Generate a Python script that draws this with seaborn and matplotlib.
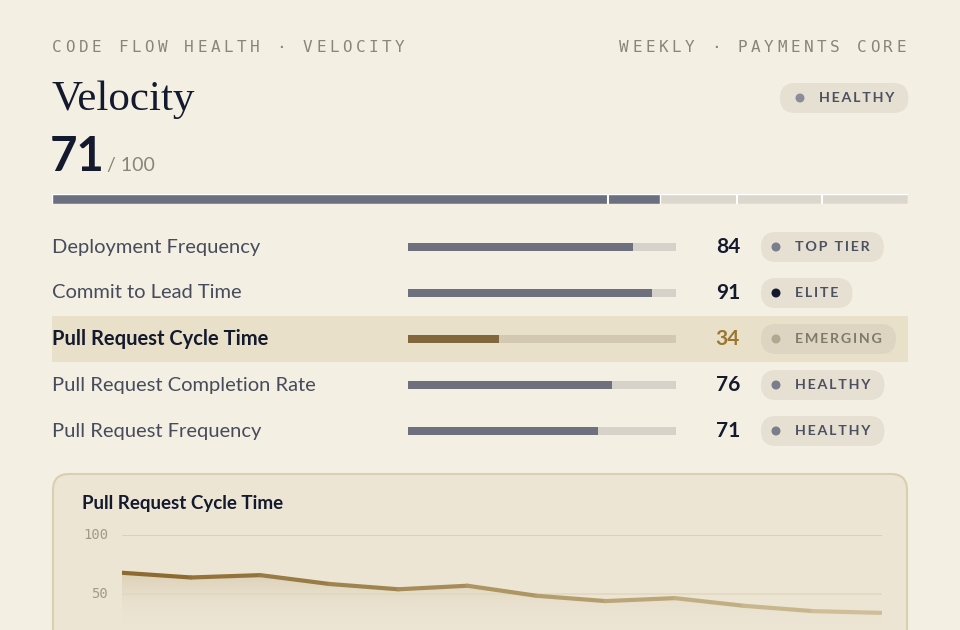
import numpy as np
import pandas as pd
import matplotlib
matplotlib.use("Agg")
import matplotlib.pyplot as plt
import seaborn as sns
from matplotlib.patches import FancyBboxPatch, Rectangle
from matplotlib.colors import to_rgb

# data
score = 71
tier_marks = [65, 80, 90]
metrics = ["Deployment Frequency", "Commit to Lead Time", "Pull Request Cycle Time",
           "Pull Request Completion Rate", "Pull Request Frequency"]
values = [84, 91, 34, 76, 71]
badges = ["TOP TIER", "ELITE", "EMERGING", "HEALTHY", "HEALTHY"]
focus = "Pull Request Cycle Time"
trend = [68, 64, 66, 58.5, 54, 57, 48.5, 44, 46.5, 40, 35.5, 34]

BG = "#f3efe3"
SLATE = "#6b7080"
TRACK = "#dcd7cc"
GOLD = "#8c6a30"
INK = "#141a2e"
MUTED = "#8a8577"

sns.set_theme(style="white")
plt.rcParams["font.family"] = ["Lato", "DejaVu Sans"]

fig = plt.figure(figsize=(9.6, 6.3), dpi=100, facecolor=BG)
ax0 = fig.add_axes([0, 0, 1, 1])
ax0.set_xlim(0, 960)
ax0.set_ylim(630, 0)
ax0.axis("off")
ax0.set_facecolor(BG)
renderer = fig.canvas.get_renderer()


def spaced(x, y, s, step, ha="left", **kw):
    # letter-spaced monospace text, one char per step pixels
    if ha == "right":
        x = x - step * (len(s) - 1) - step * 0.6
    for i, ch in enumerate(s):
        ax0.text(x + i * step, y, ch, ha="left", va="center", **kw)


def pill(x0, x1, yc, h, color):
    ax0.add_patch(FancyBboxPatch((x0, yc - h / 2), x1 - x0, h,
                                 boxstyle=f"round,pad=0,rounding_size={h/2}",
                                 fc=color, ec="none", zorder=2))


def badge(x0, y, label, bg, dot, fg, dot_dx=15):
    t = ax0.text(x0 + dot_dx + 19, y, "\u2009".join(label), fontsize=10.3, weight="bold",
                 color=fg, va="center", zorder=3)
    bb = t.get_window_extent(renderer)
    pill(x0, bb.x1 + 14, y, 30, bg)
    ax0.add_patch(plt.Circle((x0 + dot_dx, y), 3.8, color=dot, zorder=3))


mono = dict(family="DejaVu Sans Mono", fontsize=11.5, color=MUTED)
spaced(52, 47, "CODE FLOW HEALTH · VELOCITY", 13.2, **mono)
spaced(904, 47, "WEEKLY · PAYMENTS CORE", 13.2, ha="right", **mono)

ax0.text(52, 100, "Velocity", family="Liberation Serif", fontsize=31, color=INK, va="center")
ax0.text(50, 157, str(score), fontsize=34, weight="bold", color=INK, va="center")
ax0.text(107, 165, "/ 100", fontsize=14, color=MUTED, va="center")

badge(780, 98, "HEALTHY", "#e6e0d2", "#8a8c98", "#4c5060", dot_dx=20)

# overall bar
axb = fig.add_axes([52 / 960, 1 - 204 / 630, 856 / 960, 10 / 630])
axb.barh([0], [100], color=TRACK, height=1)
axb.barh([0], [score], color=SLATE, height=1)
for t in tier_marks:
    axb.axvline(t, color="white", lw=1.5)
axb.set_xlim(0, 100)
axb.set_ylim(-0.5, 0.5)
axb.axis("off")

# highlight row
rows_y = [247, 293, 339, 385, 431]
fi = metrics.index(focus)
ax0.add_patch(Rectangle((52, rows_y[fi] - 23), 856, 46, fc="#e8e0c8", ec="none", zorder=0))

axm = fig.add_axes([408 / 960, 1 - 454 / 630, 268 / 960, 230 / 630])
axm.patch.set_alpha(0)
df = pd.DataFrame({"metric": metrics, "value": values})
sns.barplot(data=df, y="metric", x=[100] * 5, color="#d8d3c8", width=0.18,
            linewidth=0, ax=axm)
bar_cols = [GOLD if m == focus else SLATE for m in metrics]
sns.barplot(data=df, y="metric", x="value", hue="metric", palette=bar_cols,
            width=0.18, linewidth=0, legend=False, ax=axm)
axm.patches[fi].set_facecolor("#d3c9b3")
axm.set_xlim(0, 100)
axm.axis("off")

for i, (m, v, b) in enumerate(zip(metrics, values, badges)):
    y = rows_y[i]
    hot = m == focus
    ax0.text(52, y, m, fontsize=14.5, va="center", color=INK if hot else "#474c5c",
             weight="bold" if hot else "normal")
    ax0.text(740, y, str(v), fontsize=15, weight="bold", ha="right", va="center",
             color="#9a7630" if hot else INK)
    dot = {"ELITE": INK, "EMERGING": "#b0a890"}.get(b, "#7a7e8c")
    badge(761, y, b, "#ddd5c2" if hot else "#e6e0d2", dot,
          "#807a6a" if hot else "#4c5060")

# trend card
ax0.add_patch(FancyBboxPatch((53, 474), 854, 200, boxstyle="round,pad=0,rounding_size=16",
                             fc="#ece5d4", ec="#d8cfae", lw=1.5, zorder=0))
ax0.text(82, 504, focus, fontsize=13.5, weight="bold", color=INK, va="center")
for val, yy in [(100, 535), (50, 594)]:
    ax0.text(108, yy, str(val), family="DejaVu Sans Mono", fontsize=10,
             color="#a09a88", ha="right", va="center")

axl = fig.add_axes([122 / 960, 0, 760 / 960, 95 / 630])
axl.patch.set_alpha(0)
x = np.arange(len(trend))
lo = 100 - 95 / 1.18
axl.set_xlim(0, len(trend) - 1)
axl.set_ylim(lo, 100)
axl.axhline(100, color="#d8cfb0", lw=1.2)
axl.axhline(50, color="#e0d8c0", lw=1.2)
grad = np.linspace(1, 0, 100).reshape(-1, 1)
img = axl.imshow(grad, extent=[0, len(trend) - 1, lo, 70], aspect="auto",
                 cmap=matplotlib.colors.LinearSegmentedColormap.from_list(
                     "g", [(0.93, 0.91, 0.85, 0), (0.82, 0.75, 0.62, 0.6)]), zorder=1)
poly = axl.fill_between(x, trend, lo, color="none")
img.set_clip_path(poly.get_paths()[0], transform=axl.transData)
c0, c1 = np.array(to_rgb(GOLD)), np.array(to_rgb("#cfbf98"))
for i in range(len(trend) - 1):
    f = i / (len(trend) - 2)
    sns.lineplot(x=x[i:i + 2], y=trend[i:i + 2], color=c0 * (1 - f) + c1 * f,
                 lw=3, ax=axl, zorder=3, solid_capstyle="round")
axl.axis("off")

fig.savefig("out.png", dpi=100, facecolor=BG)
